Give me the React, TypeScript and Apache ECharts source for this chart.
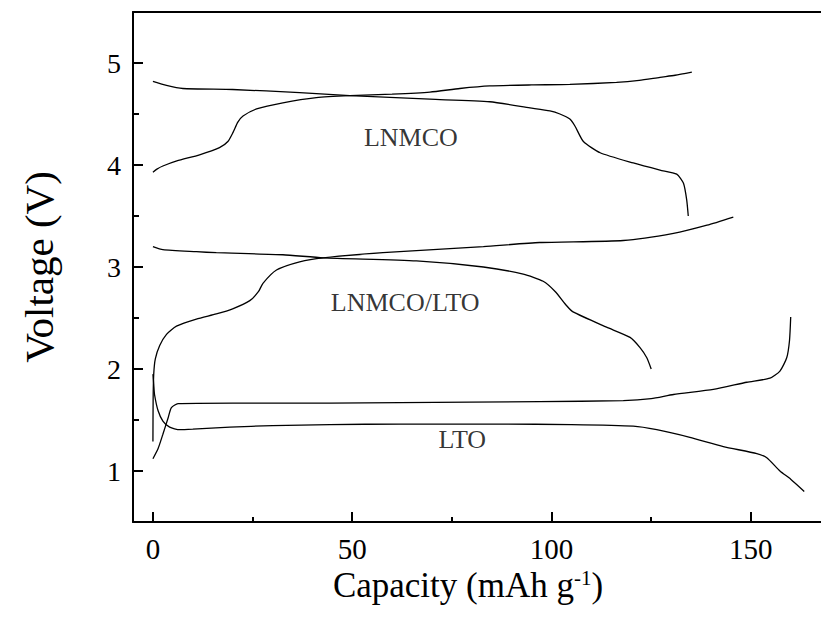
import React, { useEffect, useRef } from "react";
import * as echarts from "echarts";

// Axis ticks
const xTickValues = [0, 50, 100, 150];
const xMinorTickValues = [25, 75, 125];
const yTickValues = [1, 2, 3, 4, 5];
const yMinorTickValues = [1.5, 2.5, 3.5, 4.5];

// [capacity (mAh/g), voltage (V)]
const lnmcoCharge: number[][] = [
  [0, 3.93], [1, 3.96], [2.5, 3.99], [6, 4.04], [11.7, 4.1], [16.7, 4.17], [18.8, 4.23],
  [20.1, 4.32], [21.3, 4.42], [22.6, 4.48], [26, 4.55], [32.6, 4.61], [41, 4.66],
  [49.4, 4.68], [60, 4.695], [69.5, 4.715], [77, 4.75], [84.5, 4.775], [95, 4.785],
  [104.6, 4.79], [116.3, 4.81], [122, 4.83], [127.2, 4.86], [131, 4.88], [135.2, 4.91],
];
const lnmcoDischarge: number[][] = [
  [0, 4.82], [3.4, 4.78], [7.5, 4.75], [20, 4.74], [36.8, 4.71], [49.4, 4.68],
  [69.5, 4.645], [84.5, 4.62], [94.6, 4.56], [99.6, 4.53], [102.1, 4.5], [104.6, 4.45],
  [105.9, 4.38], [108, 4.23], [112.2, 4.12], [120.5, 4.02], [127.2, 3.95], [131.4, 3.91],
  [133.1, 3.82], [133.9, 3.66], [134.3, 3.5],
];
const fullCellCharge: number[][] = [
  [0, 1.29], [0.05, 1.7], [0.2, 1.95], [0.6, 2.1], [1.7, 2.23], [3.4, 2.34], [5.9, 2.42],
  [10.9, 2.49], [15.9, 2.54], [20, 2.59], [24.3, 2.67], [26.5, 2.76], [27.6, 2.84],
  [31, 2.97], [36.8, 3.05], [42.7, 3.09], [57.7, 3.14], [82.9, 3.2], [97, 3.24],
  [118, 3.26], [130.6, 3.33], [139, 3.41], [145.6, 3.49],
];
const fullCellDischarge: number[][] = [
  [0, 3.2], [2.5, 3.17], [10.9, 3.15], [15.9, 3.14], [32.6, 3.12], [42.7, 3.09],
  [66.1, 3.06], [82.9, 3.0], [92.9, 2.93], [97.9, 2.86], [100.9, 2.76], [103.8, 2.62],
  [105.4, 2.56], [113.8, 2.41], [119.7, 2.31], [122.2, 2.21], [123.9, 2.11], [125, 2.0],
];
const ltoCharge: number[][] = [
  [0, 1.12], [1.3, 1.22], [2.5, 1.36], [3.8, 1.52], [4.6, 1.62], [6.3, 1.66], [20, 1.665],
  [44.4, 1.665], [62, 1.67], [97, 1.68], [118, 1.69], [125, 1.71], [130.6, 1.75],
  [140.6, 1.8], [149, 1.87], [154.8, 1.91], [157.3, 1.98], [159, 2.11], [159.7, 2.28],
  [160, 2.51],
];
const ltoDischarge: number[][] = [
  [0, 1.95], [0.2, 1.85], [0.4, 1.75], [1.3, 1.59], [2.5, 1.49], [4.2, 1.43], [6.7, 1.405],
  [10, 1.41], [19.3, 1.43], [30, 1.445], [44.4, 1.455], [62, 1.46], [87, 1.46],
  [105, 1.455], [120.5, 1.44], [126.4, 1.405], [134.7, 1.33], [143.1, 1.24],
  [151.5, 1.17], [154, 1.13], [157.3, 1.0], [160, 0.92], [163.4, 0.8],
];

const annotationNames = ["LNMCO", "LNMCO/LTO", "LTO"];
const annotationPoints: number[][] = [[64.7, 4.27], [63.3, 2.65], [77.6, 1.31]];

const FONT = "Liberation Serif";

export default function App() {
  const ref = useRef<HTMLDivElement>(null);
  useEffect(() => {
    if (!ref.current) return;
    const chart = echarts.init(ref.current, null, { renderer: "svg" });
    const lineSeries = (name: string, data: number[][]) => ({
      name,
      type: "line",
      data,
      showSymbol: false,
      smooth: 0.2,
      lineStyle: { color: "#000", width: 1.3 },
      xAxisIndex: 0,
      yAxisIndex: 0,
      silent: true,
    });
    const axisLineStyle = { color: "#000", width: 2 };
    const xMin = -5;
    const xMax = 167.6;
    const yMin = 0.5;
    const yMax = 5.5;
    chart.setOption({
      animation: false,
      backgroundColor: "#fff",
      grid: { left: 133, right: 0, top: 12, bottom: 100 },
      xAxis: [
        {
          type: "value",
          min: xMin,
          max: xMax,
          position: "bottom",
          axisLine: { show: true, onZero: false, lineStyle: axisLineStyle },
          axisTick: { show: true, inside: true, length: 10, customValues: xTickValues, lineStyle: axisLineStyle },
          axisLabel: {
            customValues: xTickValues,
            color: "#000",
            fontFamily: FONT,
            fontSize: 29,
            margin: 12,
          },
          splitLine: { show: false },
          name: "Capacity (mAh g{sup|-1})",
          nameLocation: "middle",
          nameGap: 40,
          nameTextStyle: {
            color: "#000",
            fontFamily: FONT,
            fontSize: 35,
            padding: [0, 18, 0, 0],
            rich: {
              sup: { fontFamily: FONT, fontSize: 21, color: "#000", verticalAlign: "top" },
            },
          },
        },
        {
          type: "value",
          min: xMin,
          max: xMax,
          position: "bottom",
          axisLine: { show: false, onZero: false },
          axisTick: { show: true, inside: true, length: 5, customValues: xMinorTickValues, lineStyle: axisLineStyle },
          axisLabel: { show: false },
          splitLine: { show: false },
        },
        {
          type: "value",
          min: xMin,
          max: xMax,
          position: "top",
          axisLine: { show: true, onZero: false, lineStyle: axisLineStyle },
          axisTick: { show: false },
          axisLabel: { show: false },
          splitLine: { show: false },
        },
      ],
      yAxis: [
        {
          type: "value",
          min: yMin,
          max: yMax,
          position: "left",
          axisLine: { show: true, onZero: false, lineStyle: axisLineStyle },
          axisTick: { show: true, inside: true, length: 10, customValues: yTickValues, lineStyle: axisLineStyle },
          axisLabel: {
            customValues: yTickValues,
            color: "#000",
            fontFamily: FONT,
            fontSize: 28,
            margin: 12,
          },
          splitLine: { show: false },
          name: "Voltage (V)",
          nameLocation: "middle",
          nameGap: 74,
          nameTextStyle: { color: "#000", fontFamily: FONT, fontSize: 41 },
        },
        {
          type: "value",
          min: yMin,
          max: yMax,
          position: "left",
          axisLine: { show: false, onZero: false },
          axisTick: { show: true, inside: true, length: 6, customValues: yMinorTickValues, lineStyle: axisLineStyle },
          axisLabel: { show: false },
          splitLine: { show: false },
        },
      ],
      series: [
        lineSeries("LNMCO charge", lnmcoCharge),
        lineSeries("LNMCO discharge", lnmcoDischarge),
        lineSeries("LNMCO/LTO charge", fullCellCharge),
        lineSeries("LNMCO/LTO discharge", fullCellDischarge),
        lineSeries("LTO charge", ltoCharge),
        lineSeries("LTO discharge", ltoDischarge),
        {
          type: "scatter",
          silent: true,
          symbol: "circle",
          symbolSize: 1,
          itemStyle: { color: "rgba(0,0,0,0)" },
          data: annotationNames.map((n, i) => ({ name: n, value: annotationPoints[i] })),
          label: {
            show: true,
            position: "inside",
            formatter: "{b}",
            color: "#000",
            fontFamily: FONT,
            fontSize: 26,
          },
        },
      ],
    });
    return () => chart.dispose();
  }, []);
  return (
    <div
      ref={ref}
      style={{ position: "fixed", left: 0, top: 0, width: 821, height: 622, background: "#fff" }}
    />
  );
}
